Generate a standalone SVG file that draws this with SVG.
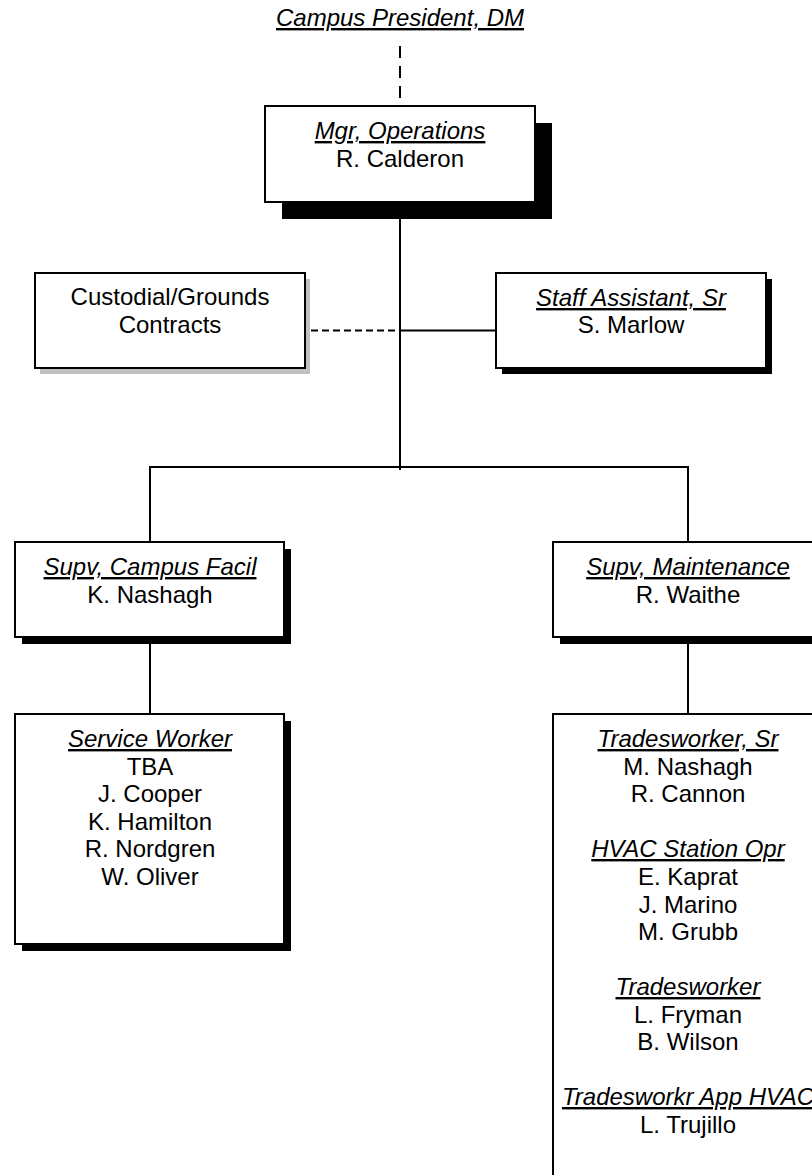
<svg xmlns="http://www.w3.org/2000/svg" width="812" height="1175" viewBox="0 0 812 1175">
<style>
.box{fill:#fff;stroke:#000;stroke-width:2}
.sh{fill:#000}
.shg{fill:#c0c0c0}
text{font-family:"Liberation Sans",Arial,sans-serif;font-size:24px;fill:#000;text-anchor:middle}
.t{font-style:italic;text-decoration:underline}
.ln{stroke:#000;stroke-width:2;fill:none}
.dash{stroke:#000;stroke-width:2;fill:none;stroke-dasharray:7 4}
.dash2{stroke:#000;stroke-width:2;fill:none;stroke-dasharray:12 8}
</style>
<rect width="812" height="1175" fill="#fff"/>
<g id="connectors">
<line class="dash2" x1="400" y1="46" x2="400" y2="106"/>
<line class="ln" x1="400" y1="202" x2="400" y2="470"/>
<line class="dash" x1="311" y1="330.5" x2="400" y2="330.5"/>
<line class="ln" x1="400" y1="330.5" x2="496" y2="330.5"/>
<polyline class="ln" points="150,542 150,467 688,467 688,542"/>
<line class="ln" x1="150" y1="637" x2="150" y2="714"/>
<line class="ln" x1="688" y1="637" x2="688" y2="714"/>
</g>
<g id="campus-president">
<text class="t" x="400" y="26">Campus President, DM</text>
</g>
<g id="mgr-operations">
<rect class="sh" x="282" y="123" width="270" height="96"/>
<rect class="box" x="265" y="106" width="270" height="96"/>
<text class="t" x="400" y="139">Mgr, Operations</text>
<text x="400" y="167">R. Calderon</text>
</g>
<g id="custodial">
<rect class="shg" x="40" y="279" width="270" height="95"/>
<rect class="box" x="35" y="273" width="270" height="95"/>
<text x="170" y="305">Custodial/Grounds</text>
<text x="170" y="333">Contracts</text>
</g>
<g id="staff-assistant">
<rect class="sh" x="502" y="279" width="270" height="95"/>
<rect class="box" x="496" y="273" width="270" height="95"/>
<text class="t" x="631" y="306">Staff Assistant, Sr</text>
<text x="631" y="333">S. Marlow</text>
</g>
<g id="supv-campus-facil">
<rect class="sh" x="22" y="549" width="269" height="95"/>
<rect class="box" x="15" y="542" width="269" height="95"/>
<text class="t" x="150" y="575">Supv, Campus Facil</text>
<text x="150" y="603">K. Nashagh</text>
</g>
<g id="supv-maintenance">
<rect class="sh" x="560" y="549" width="270" height="95"/>
<rect class="box" x="553" y="542" width="270" height="95"/>
<text class="t" x="688" y="575">Supv, Maintenance</text>
<text x="688" y="603">R. Waithe</text>
</g>
<g id="service-worker">
<rect class="sh" x="22" y="721" width="269" height="230"/>
<rect class="box" x="15" y="714" width="269" height="230"/>
<text class="t" x="150" y="747">Service Worker</text>
<text x="150" y="774.5">TBA</text>
<text x="150" y="802">J. Cooper</text>
<text x="150" y="829.5">K. Hamilton</text>
<text x="150" y="857">R. Nordgren</text>
<text x="150" y="885">W. Oliver</text>
</g>
<g id="tradesworkers">
<rect class="sh" x="560" y="721" width="270" height="480"/>
<rect class="box" x="553" y="714" width="270" height="480"/>
<text class="t" x="688" y="747">Tradesworker, Sr</text>
<text x="688" y="774.5">M. Nashagh</text>
<text x="688" y="802">R. Cannon</text>
<text class="t" x="688" y="857">HVAC Station Opr</text>
<text x="688" y="885">E. Kaprat</text>
<text x="688" y="912.5">J. Marino</text>
<text x="688" y="940">M. Grubb</text>
<text class="t" x="688" y="995">Tradesworker</text>
<text x="688" y="1022.5">L. Fryman</text>
<text x="688" y="1050">B. Wilson</text>
<text class="t" x="688" y="1105">Tradesworkr App HVAC</text>
<text x="688" y="1132.5">L. Trujillo</text>
</g>
</svg>
